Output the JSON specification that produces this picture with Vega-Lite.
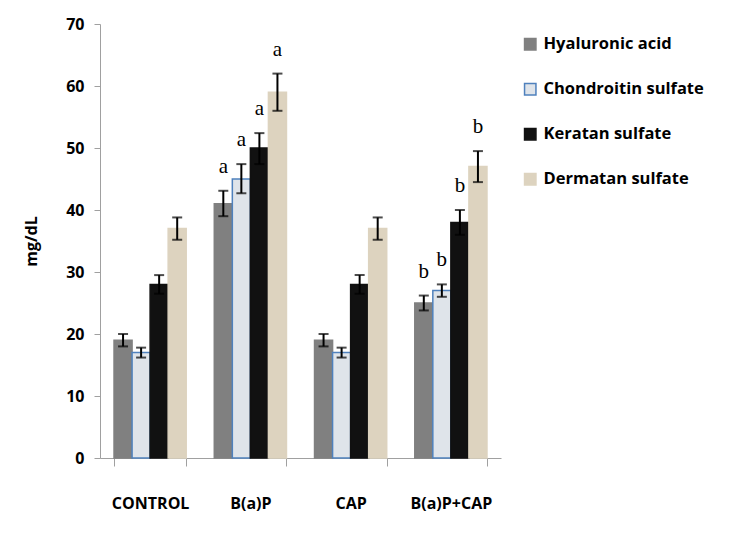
{
  "$schema": "https://vega.github.io/schema/vega-lite/v6.json",
  "autosize": "none",
  "width": 401,
  "height": 434,
  "padding": {"left": 100, "top": 24, "right": 230, "bottom": 75},
  "background": "white",
  "config": {"view": {"stroke": null}},
  "data": {
    "values": [
      {"group": "CONTROL", "gag": "Hyaluronic acid", "mean": 19, "lower": 18, "upper": 20, "label": ""},
      {"group": "CONTROL", "gag": "Chondroitin sulfate", "mean": 17, "lower": 16.2, "upper": 17.8, "label": ""},
      {"group": "CONTROL", "gag": "Keratan sulfate", "mean": 28, "lower": 26.5, "upper": 29.5, "label": ""},
      {"group": "CONTROL", "gag": "Dermatan sulfate", "mean": 37, "lower": 35.2, "upper": 38.8, "label": ""},
      {"group": "B(a)P", "gag": "Hyaluronic acid", "mean": 41, "lower": 39, "upper": 43.1, "label": "a"},
      {"group": "B(a)P", "gag": "Chondroitin sulfate", "mean": 45, "lower": 42.7, "upper": 47.4, "label": "a"},
      {"group": "B(a)P", "gag": "Keratan sulfate", "mean": 50, "lower": 47.4, "upper": 52.4, "label": "a"},
      {"group": "B(a)P", "gag": "Dermatan sulfate", "mean": 59, "lower": 56, "upper": 62, "label": "a"},
      {"group": "CAP", "gag": "Hyaluronic acid", "mean": 19, "lower": 18, "upper": 20, "label": ""},
      {"group": "CAP", "gag": "Chondroitin sulfate", "mean": 17, "lower": 16.2, "upper": 17.8, "label": ""},
      {"group": "CAP", "gag": "Keratan sulfate", "mean": 28, "lower": 26.5, "upper": 29.5, "label": ""},
      {"group": "CAP", "gag": "Dermatan sulfate", "mean": 37, "lower": 35.2, "upper": 38.8, "label": ""},
      {"group": "B(a)P+CAP", "gag": "Hyaluronic acid", "mean": 25, "lower": 23.8, "upper": 26.2, "label": "b"},
      {"group": "B(a)P+CAP", "gag": "Chondroitin sulfate", "mean": 27, "lower": 26, "upper": 28, "label": "b"},
      {"group": "B(a)P+CAP", "gag": "Keratan sulfate", "mean": 38, "lower": 36, "upper": 40, "label": "b"},
      {"group": "B(a)P+CAP", "gag": "Dermatan sulfate", "mean": 47, "lower": 44.5, "upper": 49.5, "label": "b"}
    ]
  },
  "encoding": {
    "x": {
      "field": "group", "type": "nominal",
      "sort": ["CONTROL", "B(a)P", "CAP", "B(a)P+CAP"],
      "scale": {"paddingInner": 0.28, "paddingOuter": 0.14},
      "axis": {
        "title": null, "labelAngle": 0, "tickBand": "extent",
        "domainColor": "#a0a0a0", "tickColor": "#a0a0a0", "tickSize": 8,
        "labelFont": "Open Sans", "labelFontWeight": "bold", "labelFontSize": 16,
        "labelColor": "#000000", "labelPadding": 29
      }
    },
    "xOffset": {
      "field": "gag", "type": "nominal",
      "sort": ["Hyaluronic acid", "Chondroitin sulfate", "Keratan sulfate", "Dermatan sulfate"],
      "scale": {"paddingInner": 0, "paddingOuter": 0}
    }
  },
  "layer": [
    {
      "mark": {"type": "bar", "strokeWidth": 1.5},
      "encoding": {
        "y": {
          "field": "mean", "type": "quantitative",
          "scale": {"domain": [0, 70], "nice": false},
          "axis": {
            "title": "mg/dL", "titleFont": "Open Sans", "titleFontWeight": "bold", "titleFontSize": 16,
            "titlePadding": 26, "titleColor": "#000000",
            "values": [0, 10, 20, 30, 40, 50, 60, 70], "grid": false,
            "domainColor": "#a0a0a0", "tickColor": "#a0a0a0", "tickSize": 6,
            "labelFont": "Open Sans", "labelFontWeight": "bold", "labelFontSize": 16,
            "labelColor": "#000000", "labelPadding": 10
          }
        },
        "fill": {
          "field": "gag", "type": "nominal",
          "sort": ["Hyaluronic acid", "Chondroitin sulfate", "Keratan sulfate", "Dermatan sulfate"],
          "scale": {"range": ["#808080", "#dfe4ea", "#111111", "#ddd3bf"]},
          "legend": {
            "title": null, "orient": "none", "legendX": 422, "legendY": 12,
            "symbolType": "square", "symbolSize": 130, "symbolStrokeWidth": 1.5,
            "labelFont": "Open Sans", "labelFontWeight": "bold", "labelFontSize": 16.5,
            "labelColor": "#000000", "rowPadding": 27, "labelOffset": 5, "padding": 0,
            "labelLimit": 400,
            "encode": {
              "symbols": {"update": {"stroke": {"scale": "stroke", "field": "value"}, "strokeWidth": {"value": 1.5}}}
            }
          }
        },
        "stroke": {
          "field": "gag", "type": "nominal",
          "sort": ["Hyaluronic acid", "Chondroitin sulfate", "Keratan sulfate", "Dermatan sulfate"],
          "scale": {"range": ["#808080", "#4f81bd", "#111111", "#ddd3bf"]},
          "legend": null
        }
      }
    },
    {
      "mark": {"type": "rule", "color": "#000000", "strokeWidth": 2},
      "encoding": {
        "y": {"field": "lower", "type": "quantitative"},
        "y2": {"field": "upper"}
      }
    },
    {
      "mark": {"type": "tick", "color": "#000000", "thickness": 2, "size": 10, "orient": "horizontal"},
      "encoding": {"y": {"field": "lower", "type": "quantitative"}}
    },
    {
      "mark": {"type": "tick", "color": "#000000", "thickness": 2, "size": 10, "orient": "horizontal"},
      "encoding": {"y": {"field": "upper", "type": "quantitative"}}
    },
    {
      "mark": {"type": "text", "font": "Liberation Serif", "fontSize": 21, "baseline": "middle", "dy": -24, "color": "#000000"},
      "encoding": {
        "y": {"field": "upper", "type": "quantitative"},
        "text": {"field": "label"}
      }
    }
  ]
}
